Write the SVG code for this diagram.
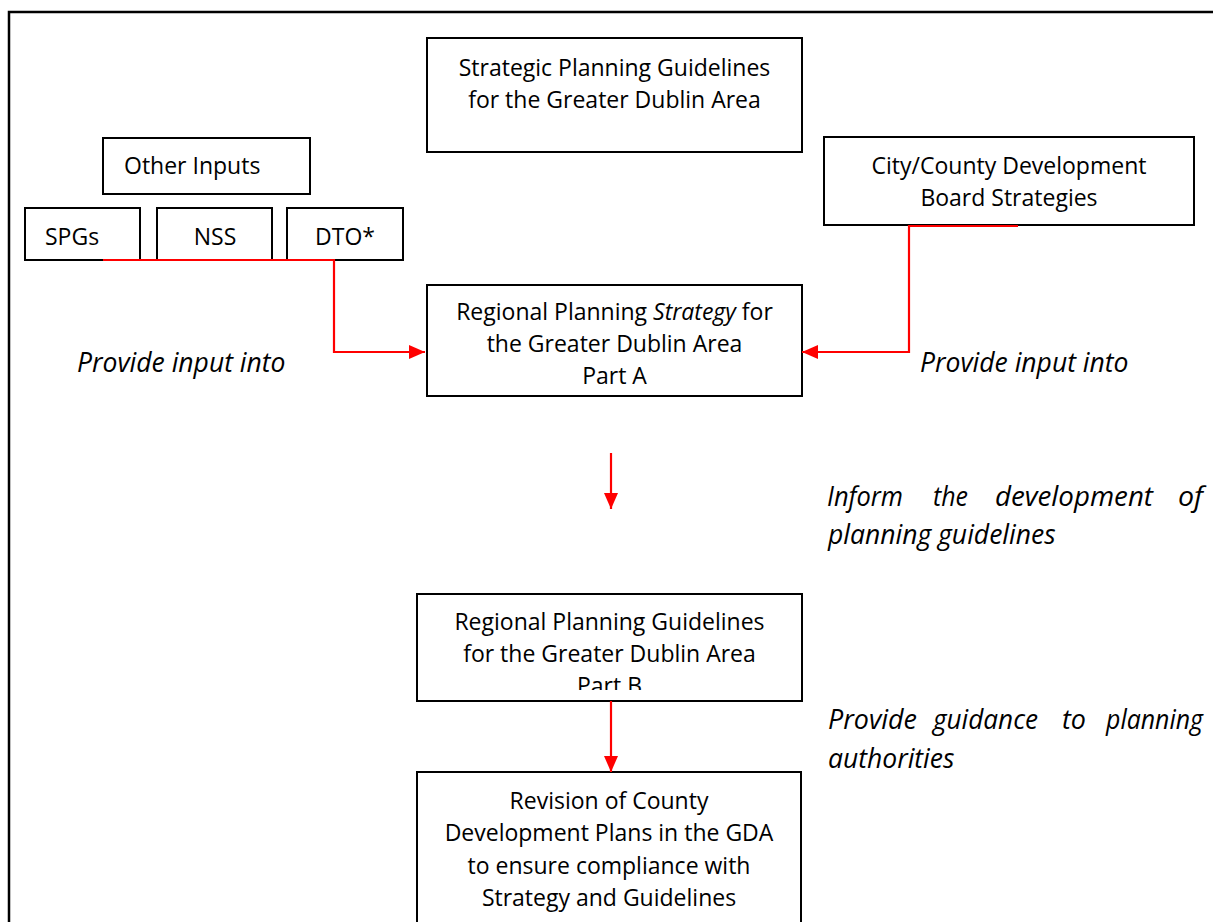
<svg xmlns="http://www.w3.org/2000/svg" width="1213" height="922" viewBox="0 0 1213 922">
<style>
.box{fill:#fff;stroke:#000;stroke-width:2}
.t{font-family:"Open Sans","Liberation Sans",sans-serif;font-size:23px;fill:#000}
.c{text-anchor:middle}
.i{font-family:"Open Sans","Liberation Sans",sans-serif;font-size:26.5px;font-style:italic;fill:#000}
.con{fill:none;stroke:#ff0000;stroke-width:2.2}
</style>
<defs>
<marker id="ah" markerUnits="userSpaceOnUse" markerWidth="18" markerHeight="16" refX="16" refY="7" orient="auto">
<path d="M0,0 L16,7 L0,14 Z" fill="#ff0000"/>
</marker>
</defs>
<rect x="9" y="12" width="1230" height="940" fill="#fff" stroke="#000" stroke-width="2.5"/>
<g id="strategic">
<rect class="box" x="427" y="38" width="375" height="114"/>
<text class="t c" x="614.5" y="76">Strategic Planning Guidelines</text>
<text class="t c" x="614.5" y="108">for the Greater Dublin Area</text>
</g>
<g id="other-inputs">
<rect class="box" x="103" y="138" width="207" height="56"/>
<text class="t" x="124" y="174">Other Inputs</text>
</g>
<g id="spgs">
<rect class="box" x="25" y="208" width="115" height="52"/>
<text class="t" x="45" y="245">SPGs</text>
</g>
<g id="nss">
<rect class="box" x="157" y="208" width="115" height="52"/>
<text class="t c" x="215" y="245">NSS</text>
</g>
<g id="dto">
<rect class="box" x="287" y="208" width="116" height="52"/>
<text class="t c" x="345" y="245">DTO*</text>
</g>
<g id="city-county">
<rect class="box" x="824" y="137" width="370" height="88"/>
<text class="t c" x="1009" y="174">City/County Development</text>
<text class="t c" x="1009" y="206">Board Strategies</text>
</g>
<g id="strategy-a">
<rect class="box" x="427" y="285" width="375" height="111"/>
<text class="t c" x="614.5" y="320">Regional Planning <tspan font-style="italic">Strategy</tspan> for</text>
<text class="t c" x="614.5" y="352">the Greater Dublin Area</text>
<text class="t c" x="614.5" y="384">Part A</text>
</g>
<g id="guidelines-b">
<rect class="box" x="417" y="594" width="385" height="107"/>
<clipPath id="clipB"><rect x="418" y="595" width="383" height="95"/></clipPath>
<g clip-path="url(#clipB)">
<text class="t c" x="609.5" y="630">Regional Planning Guidelines</text>
<text class="t c" x="609.5" y="662">for the Greater Dublin Area</text>
<text class="t c" x="609.5" y="694">Part B</text>
</g>
</g>
<g id="revision">
<rect class="box" x="417" y="772" width="384" height="170"/>
<text class="t c" x="609" y="809">Revision of County</text>
<text class="t c" x="609" y="841">Development Plans in the GDA</text>
<text class="t c" x="609" y="874">to ensure compliance with</text>
<text class="t c" x="609" y="906">Strategy and Guidelines</text>
</g>
<g id="labels">
<text class="i" x="77" y="372">Provide input into</text>
<text class="i" x="920" y="372">Provide input into</text>
<text class="i" x="827" y="506" textLength="76" lengthAdjust="spacingAndGlyphs">Inform</text>
<text class="i" x="933" y="506" textLength="35" lengthAdjust="spacingAndGlyphs">the</text>
<text class="i" x="995" y="506" textLength="158" lengthAdjust="spacingAndGlyphs">development</text>
<text class="i" x="1178" y="506" textLength="25" lengthAdjust="spacingAndGlyphs">of</text>
<text class="i" x="828" y="544">planning guidelines</text>
<text class="i" x="828" y="729" textLength="89" lengthAdjust="spacingAndGlyphs">Provide</text>
<text class="i" x="933" y="729" textLength="105" lengthAdjust="spacingAndGlyphs">guidance</text>
<text class="i" x="1062" y="729" textLength="24" lengthAdjust="spacingAndGlyphs">to</text>
<text class="i" x="1106" y="729" textLength="97" lengthAdjust="spacingAndGlyphs">planning</text>
<text class="i" x="828" y="768">authorities</text>
</g>
<g id="connectors">
<path class="con" d="M103,260 H334 V352 H425" marker-end="url(#ah)"/>
<path class="con" d="M1018,226 H909 V352 H802" marker-end="url(#ah)"/>
<path class="con" d="M611,453 V509" marker-end="url(#ah)"/>
<path class="con" d="M611,701 V772" marker-end="url(#ah)"/>
</g>
</svg>
